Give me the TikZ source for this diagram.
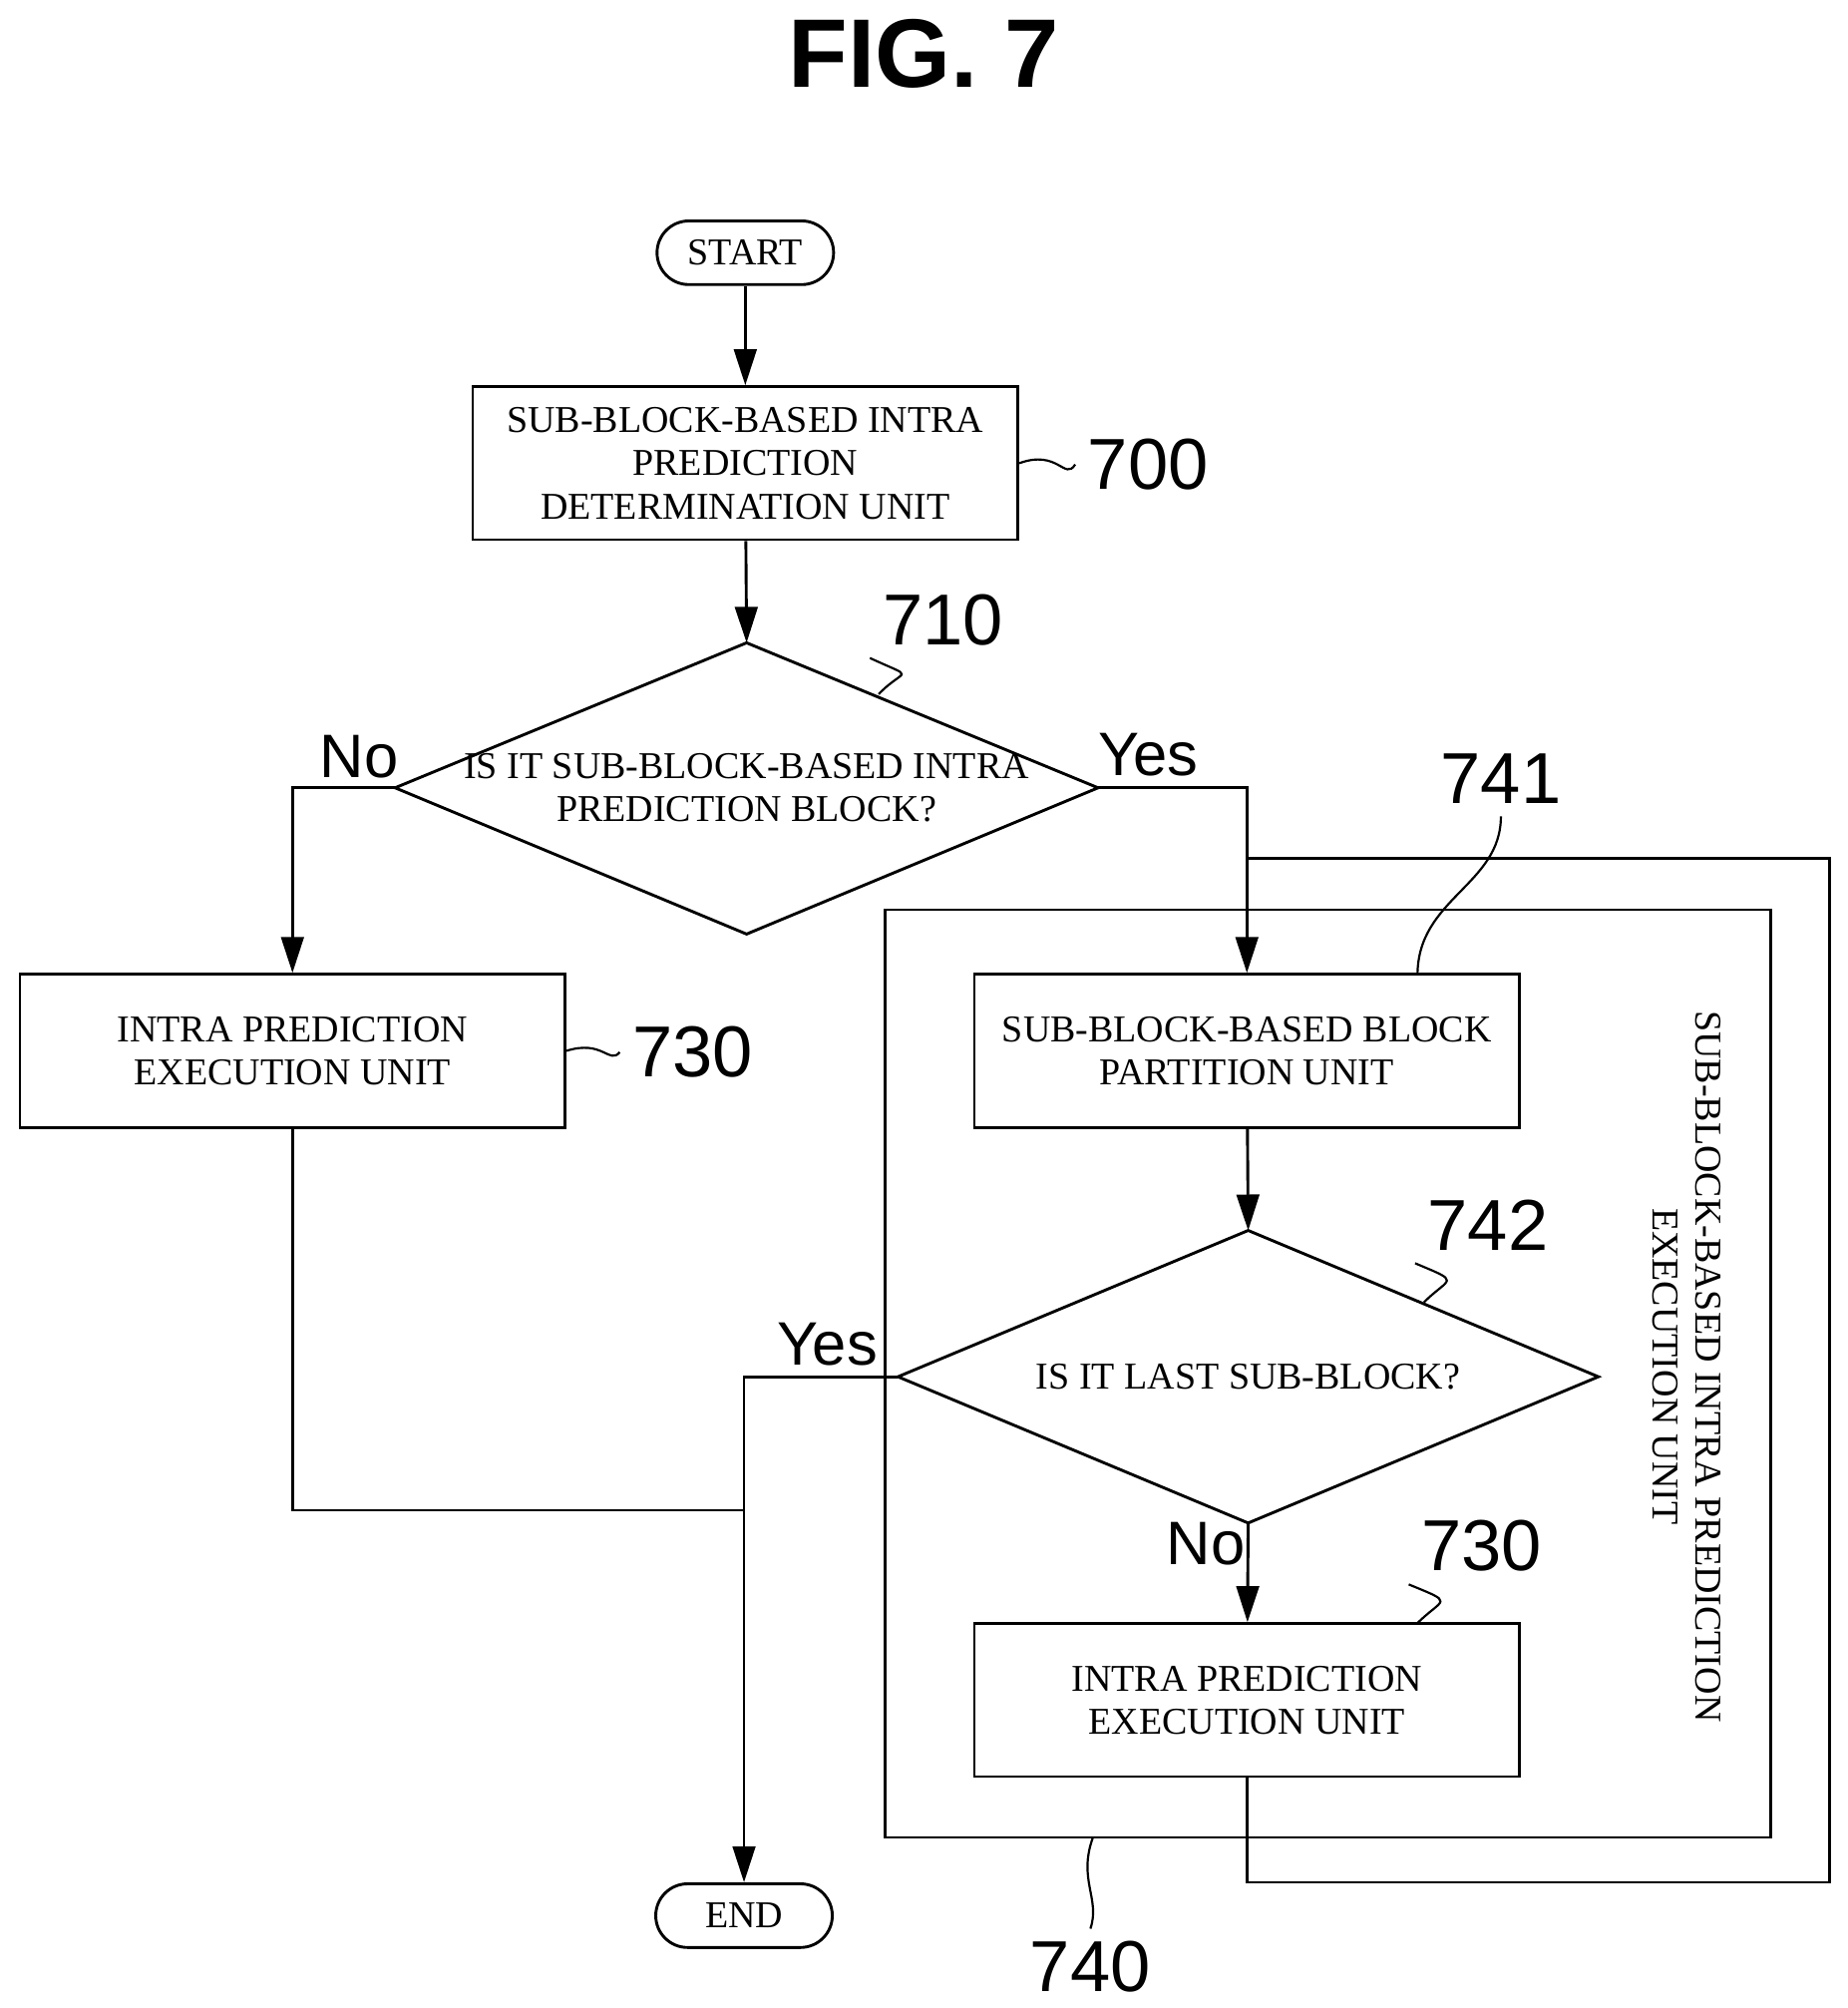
\documentclass[tikz,border=0pt]{standalone}
\usepackage{fontspec}
\setmainfont{Liberation Serif}
\newfontfamily\numfont{Liberation Sans}
\usetikzlibrary{shapes.geometric,arrows.meta}
\tikzset{
  box/.style={draw,line width=0.8pt,minimum width=5.31cm,minimum height=1.49cm,align=center,font=\fontsize{10.5}{12}\selectfont,inner sep=1pt},
  term/.style={draw,line width=0.8pt,rounded corners=0.31cm,minimum width=1.72cm,minimum height=0.62cm,font=\fontsize{10.5}{12}\selectfont},
  dec/.style={draw,line width=0.8pt,diamond,inner sep=0pt,align=center,font=\fontsize{10.5}{12}\selectfont},
  num/.style={font=\numfont\fontsize{20}{22}\selectfont},
  yn/.style={font=\numfont\fontsize{17}{19}\selectfont},
  flow/.style={line width=0.8pt,-{Triangle[length=0.35cm,width=0.22cm]}},
  wire/.style={line width=0.8pt},
  lead/.style={line width=0.6pt}
}
\begin{document}
\begin{tikzpicture}[x=0.0125cm,y=-0.0125cm]
\useasboundingbox (0,0) rectangle (1440,1565);
\node[font=\numfont\bfseries\fontsize{27}{30}\selectfont] (fig) at (720,42) {FIG. 7};
% flowchart nodes
\node[term] (start) at (581,197) {START};
\node[box] (det) at (581,361) {SUB-BLOCK-BASED INTRA\\PREDICTION\\DETERMINATION UNIT};
\draw[dec] (308,614) coordinate (q1w) -- (582,501) coordinate (q1n) -- (856,614) coordinate (q1e) -- (582,728) coordinate (q1s) -- cycle;
\node[align=center,font=\fontsize{10.5}{12}\selectfont] (q1) at (582,614) {IS IT SUB-BLOCK-BASED INTRA\\PREDICTION BLOCK?};
\node[box] (exl) at (228,819) {INTRA PREDICTION\\EXECUTION UNIT};
\node[box] (part) at (972,819) {SUB-BLOCK-BASED BLOCK\\PARTITION UNIT};
\draw[dec] (700,1073) coordinate (q2w) -- (973,959) coordinate (q2n) -- (1246,1073) coordinate (q2e) -- (973,1187) coordinate (q2s) -- cycle;
\node[font=\fontsize{10.5}{12}\selectfont] (q2) at (973,1073) {IS IT LAST SUB-BLOCK?};
\node[box] (exr) at (972,1325) {INTRA PREDICTION\\EXECUTION UNIT};
\node[term] (end) at (580,1493) {END};
% execution unit frame
\draw[wire] (690,709) rectangle (1380,1432);
\node[rotate=-90,align=center,font=\fontsize{10.5}{12}\selectfont] (unit) at (1315,1065) {SUB-BLOCK-BASED INTRA PREDICTION\\EXECUTION UNIT};
% connectors
\draw[flow] (start) -- (det);
\draw[flow] (det) -- (q1n);
\draw[flow] (q1w) -| (exl);
\draw[flow] (q1e) -| (part);
\draw[flow] (part) -- (q2n);
\draw[flow] (q2s) -- (exr);
\draw[flow] (q2w) -| (end);
\draw[wire] (exl.south) |- (580,1177);
\draw[wire] (exr.south) |- (1426,1467) |- (972,669);
% branch labels
\node[yn] (no1) at (280,590) {No};
\node[yn] (yes1) at (895,588) {Yes};
\node[yn] (yes2) at (645,1048) {Yes};
\node[yn] (no2) at (940,1203) {No};
% reference numerals
\node[num] (n700) at (895,362) {700};
\draw[lead] (det.east) .. controls (825,350) and (830,375) .. (n700.west);
\node[num] (n710) at (735,483) {710};
\draw[lead] (685,541) .. controls (705,520) and (715,530) .. (n710.south west);
\node[num] (n730a) at (540,820) {730};
\draw[lead] (exl.east) .. controls (470,810) and (475,830) .. (n730a.west);
\node[num] (n741) at (1170,607) {741};
\draw[lead] (1105,760) .. controls (1105,700) and (1170,690) .. (n741.south);
\node[num] (n742) at (1160,955) {742};
\draw[lead] (1110,1015) .. controls (1130,995) and (1140,1000) .. (n742.south west);
\node[num] (n730b) at (1155,1205) {730};
\draw[lead] (1105,1265) .. controls (1125,1245) and (1135,1250) .. (n730b.south west);
\node[num] (n740) at (850,1533) {740};
\draw[lead] (852,1432) .. controls (840,1465) and (858,1480) .. (n740.north);
\end{tikzpicture}
\end{document}
